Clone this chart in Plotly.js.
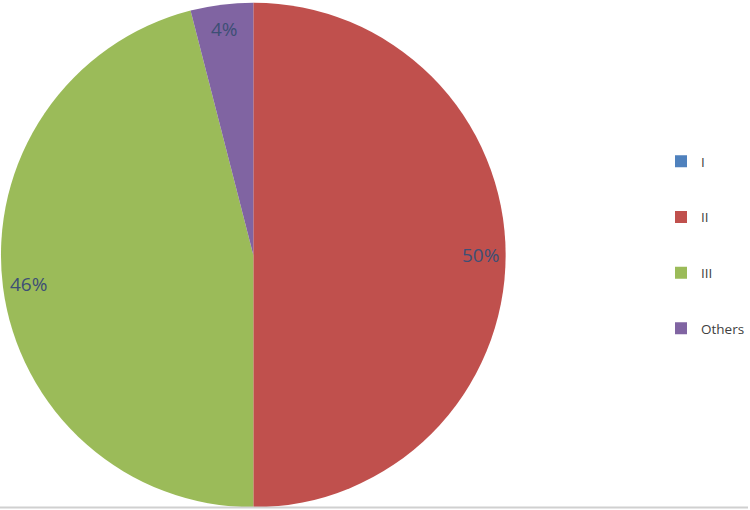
<!DOCTYPE html>
<html>
<head>
<meta charset="utf-8">
<script src="https://cdn.plot.ly/plotly-3.0.1.min.js"></script>
<style>html,body{margin:0;padding:0;background:#fff;}#chart{width:750px;height:510px;}</style>
</head>
<body>
<div id="chart"></div>
<script>
const categories = ["I", "II", "III", "Others"];
const values = [0, 50, 46, 4];
const colors = ["#4f81bd", "#c0504d", "#9bbb59", "#8064a2"];

// pie geometry (pixels) used for the label annotations
const W = 750, H = 510;
const domX = [0.0013, 0.676], domY = [0.004, 0.996];
const cx = (domX[0] + domX[1]) / 2 * W;
const cy = (1 - (domY[0] + domY[1]) / 2) * H;
const R = Math.min((domX[1] - domX[0]) * W, (domY[1] - domY[0]) * H) / 2;
const labelFrac = 0.9;

const total = values.reduce((a, b) => a + b, 0);
const annotations = [];
let acc = 0;
values.forEach((v, i) => {
  if (v > 0) {
    const mid = (acc + v / 2) / total * 2 * Math.PI; // clockwise from top
    const px = cx + Math.sin(mid) * R * labelFrac;
    const py = cy - Math.cos(mid) * R * labelFrac;
    annotations.push({
      xref: "paper", yref: "paper",
      x: px / W, y: 1 - py / H,
      xanchor: "center", yanchor: "middle",
      text: Math.round(v / total * 100) + "%",
      showarrow: false,
      font: {family: "Open Sans, Liberation Sans, sans-serif", size: 19, color: "#3d4f75"}
    });
  }
  acc += v;
});

const trace = {
  type: "pie",
  labels: categories.map(c => "&nbsp;<br>" + c + "<br>&nbsp;"),
  values: values,
  sort: false,
  direction: "clockwise",
  rotation: 0,
  marker: {colors: colors, line: {width: 0}},
  textinfo: "none",
  domain: {x: domX, y: domY},
  hoverinfo: "label+percent"
};

const layout = {
  width: W,
  height: H,
  margin: {l: 0, r: 0, t: 0, b: 0},
  paper_bgcolor: "#ffffff",
  showlegend: true,
  legend: {
    x: 0.884, y: 0.748, xanchor: "left", yanchor: "top",
    font: {family: "Open Sans, Liberation Sans, sans-serif", size: 13.5, color: "#404040"},
    valign: "middle",
    traceorder: "normal"
  },
  annotations: annotations,
  shapes: [{type: "line", xref: "paper", yref: "paper", x0: 0, x1: 1, y0: 0.005, y1: 0.005, line: {color: "#d0d0d0", width: 2}}]
};

Plotly.newPlot("chart", [trace], layout, {displayModeBar: false, staticPlot: true});
</script>
</body>
</html>
